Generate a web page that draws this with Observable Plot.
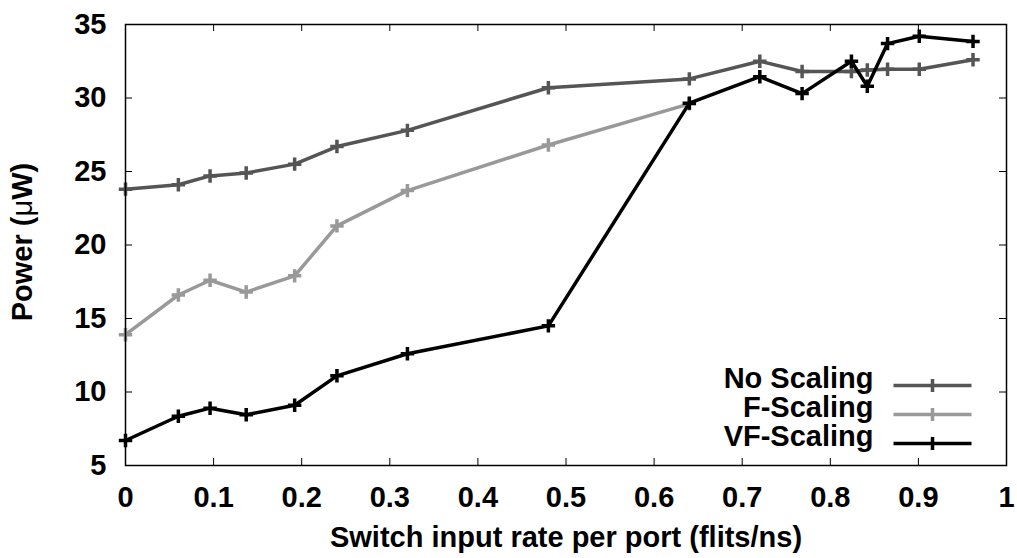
<!DOCTYPE html>
<html>
<head>
<meta charset="utf-8">
<script src="https://cdn.jsdelivr.net/npm/d3@7"></script>
<script src="https://cdn.jsdelivr.net/npm/@observablehq/plot@0.6"></script>
<style>
  html, body { margin: 0; padding: 0; background: #fff; }
</style>
</head>
<body>
<div id="chart"></div>
<script>
// Switch input rate per port (flits/ns) at each measured point
const rates = [0, 0.06, 0.096, 0.137, 0.192, 0.24, 0.32, 0.48, 0.64, 0.72, 0.768, 0.824, 0.842, 0.865, 0.901, 0.962];

// Power (µW) per policy
const noScaling = [23.8, 24.1, 24.7, 24.9, 25.5, 26.7, 27.8, 30.7, 31.3, 32.5, 31.8, 31.8, 31.9, 31.95, 31.95, 32.6];
const fScaling  = [13.9, 16.6, 17.6, 16.8, 17.9, 21.3, 23.7, 26.8, 29.6];
const vfScaling = [6.7, 8.35, 8.9, 8.45, 9.1, 11.1, 12.6, 14.5, 29.65, 31.45, 30.3, 32.5, 30.8, 33.7, 34.2, 33.85];

const seriesNames = ["No Scaling", "F-Scaling", "VF-Scaling"];
const seriesValues = [noScaling, fScaling, vfScaling];

const xTicks = [0, 0.1, 0.2, 0.3, 0.4, 0.5, 0.6, 0.7, 0.8, 0.9, 1];
const yTicks = [5, 10, 15, 20, 25, 30, 35];

const xTitle = "Switch input rate per port (flits/ns)";
const yTitle = "Power (μW)";

// styling
const seriesColors = ["#555555", "#999999", "#000000"];
const FONT = "'Liberation Sans', Arial, Helvetica, sans-serif";
const FS = 29;

const rows = seriesNames.flatMap((name, k) =>
  seriesValues[k].map((v, i) => ({rate: rates[i], power: v, series: name}))
);

// Legend sample: a short horizontal stroke crossed by a small vertical bar
const legendSample = {
  draw(ctx) {
    ctx.moveTo(-39, 0); ctx.lineTo(39, 0);
    ctx.moveTo(0, -6.5); ctx.lineTo(0, 6.5);
  }
};

const seriesMarks = seriesNames.flatMap((name, k) => {
  const sub = rows.filter(d => d.series === name);
  return [
    Plot.line(sub, {x: "rate", y: "power", stroke: seriesColors[k], strokeWidth: 3.5, strokeLinejoin: "round"}),
    Plot.dot(sub, {x: "rate", y: "power", symbol: "plus", r: 4.4, stroke: seriesColors[k], strokeWidth: 3.5, fill: "none"})
  ];
});

const legendMarks = seriesNames.flatMap((name, k) => [
  Plot.text([name], {frameAnchor: "bottom-right", dx: -133, dy: -78 + 29 * k, textAnchor: "end",
                     fontSize: FS, fontWeight: "bold", fill: "#000"}),
  Plot.dot([name], {frameAnchor: "bottom-right", dx: -74, dy: -80 + 29 * k, symbol: legendSample,
                    stroke: seriesColors[k], strokeWidth: 3.5, fill: "none"})
]);

const xLo = xTicks[0], xHi = xTicks[xTicks.length - 1];
const yLo = yTicks[0], yHi = yTicks[yTicks.length - 1];

const chart = Plot.plot({
  width: 1017,
  height: 558,
  marginLeft: 125,
  marginRight: 11,
  marginTop: 24,
  marginBottom: 93,
  style: {fontFamily: FONT, fontWeight: "bold", fontSize: FS + "px", color: "#000", background: "#fff"},
  x: {domain: [xLo, xHi]},
  y: {domain: [yLo, yHi]},
  marks: [
    // inward tick marks on all four sides
    Plot.ruleX(xTicks, {x: d => d, y1: yLo, y2: yLo, insetTop: -7, stroke: "#000", strokeWidth: 1}),
    Plot.ruleX(xTicks, {x: d => d, y1: yHi, y2: yHi, insetBottom: -7, stroke: "#000", strokeWidth: 1}),
    Plot.ruleY(yTicks, {y: d => d, x1: xLo, x2: xLo, insetRight: -7, stroke: "#000", strokeWidth: 1}),
    Plot.ruleY(yTicks, {y: d => d, x1: xHi, x2: xHi, insetLeft: -7, stroke: "#000", strokeWidth: 1}),
    Plot.axisX(xTicks, {tickSize: 0, tickPadding: 21, tickFormat: d => String(d), label: null, fontSize: FS}),
    Plot.axisY(yTicks, {tickSize: 0, tickPadding: 19, tickFormat: d => String(d), label: null, fontSize: FS}),
    ...seriesMarks,
    ...legendMarks,
    Plot.frame({stroke: "#000", strokeWidth: 1.5}),
    Plot.text([xTitle], {frameAnchor: "bottom", dy: 81, textAnchor: "middle", fontSize: FS, fontWeight: "bold"}),
    Plot.text([yTitle], {frameAnchor: "left", rotate: -90, dx: -103, dy: -3, textAnchor: "middle", fontSize: FS, fontWeight: "bold"})
  ]
});

// the Greek mu in the y title is set in a lighter weight
d3.select(chart).selectAll("text")
  .filter(function() { return this.textContent === yTitle; })
  .each(function() {
    const t = d3.select(this);
    const [before, after] = yTitle.split("μ");
    t.text(null);
    t.append("tspan").text(before);
    t.append("tspan").attr("font-weight", "normal").text("μ");
    t.append("tspan").text(after);
  });

document.getElementById("chart").appendChild(chart);
</script>
</body>
</html>
